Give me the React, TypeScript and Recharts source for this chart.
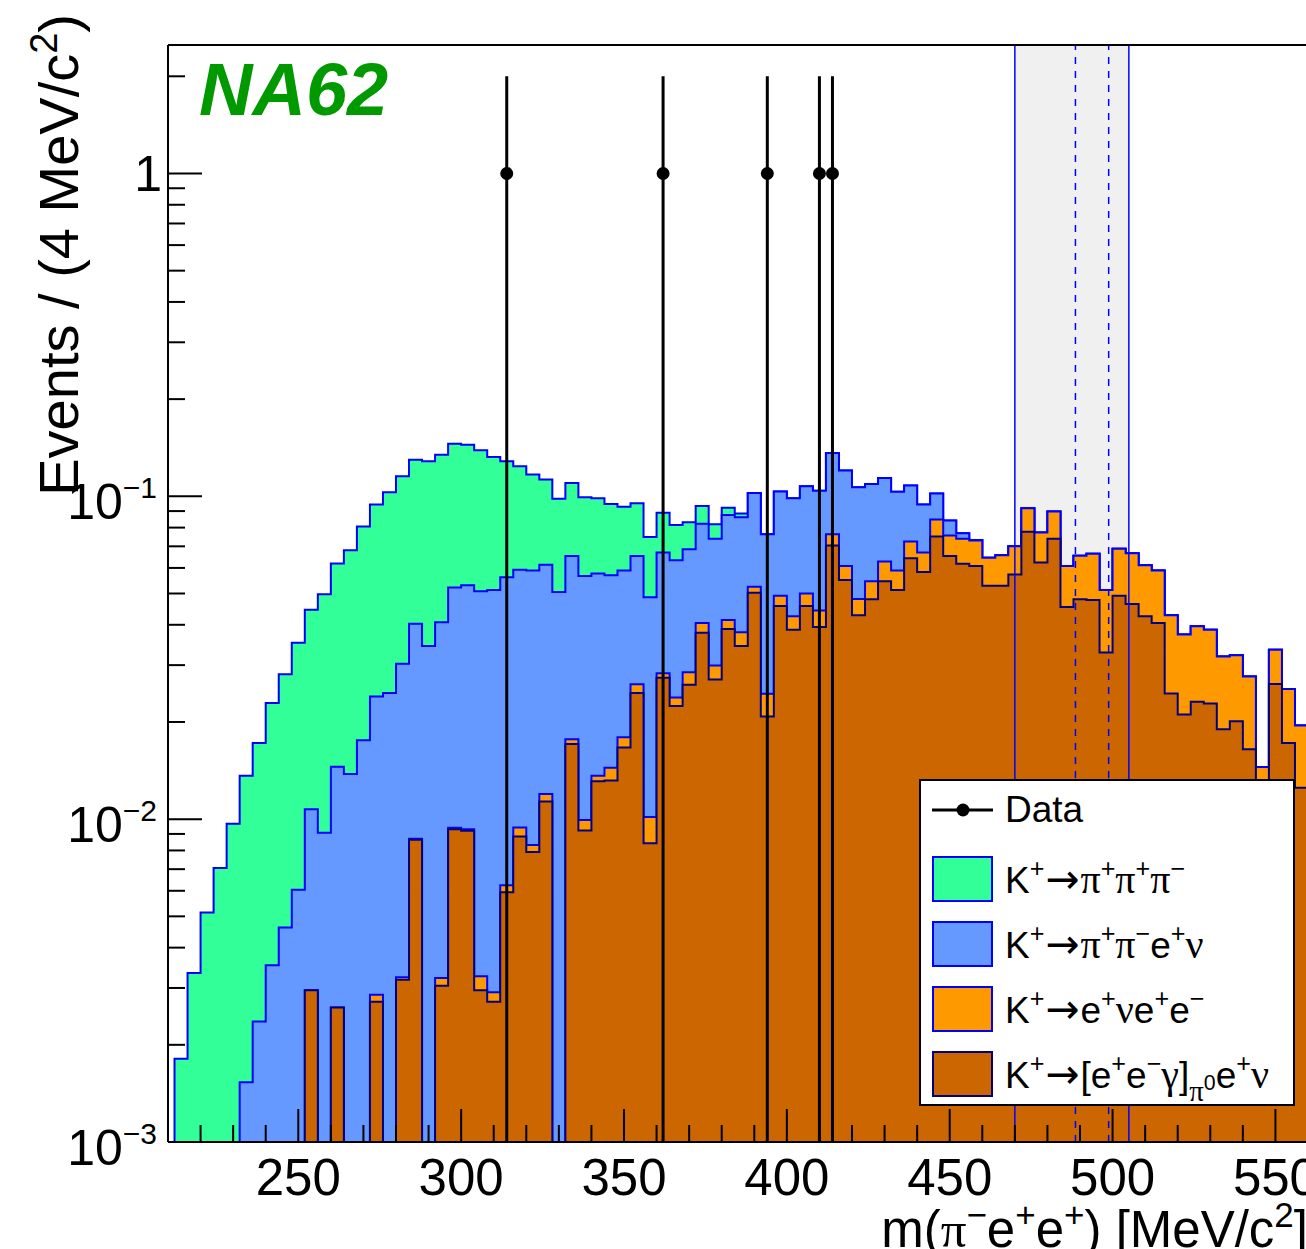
import React from 'react';
import { ComposedChart, Area, XAxis, YAxis, ReferenceArea, ReferenceLine, Scatter, Legend } from 'recharts';

const FONT = '"Liberation Sans", Arial, Helvetica, sans-serif';
const GREEK = '"Liberation Serif", "DejaVu Serif", serif';
const ARROW_FONT = '"DejaVu Sans", sans-serif';

// 4 MeV/c2 bins, lower edges 208 ... 556
const BIN_LOW = Array.from({ length: 88 }, (_, i) => 208 + 4 * i);
const BIN_END = 560;

// K+ -> pi+ pi+ pi-
const K3PI = [
  0, 0.00181, 0.00334, 0.00514, 0.00706, 0.00968, 0.01209, 0.01484, // 208
  0.01937, 0.02348, 0.02916, 0.03376, 0.04063, 0.04738, 0.0543, 0.06316, // 240
  0.0703, 0.0784, 0.0851, 0.0894, 0.0941, 0.0938, 0.0932, 0.0914, // 272
  0.0881, 0.081, 0.0724, 0.0648, 0.058, 0.0514, 0.0477, 0.0446, // 304
  0.0427, 0.041, 0.0376, 0.0339, 0.0299, 0.0261, 0.022, 0.0181, // 336
  0.0145, 0.0111, 0.0081, 0.0047, 0.0022, 0, 0, 0, // 368
  0, 0, 0, 0, 0, 0, 0, 0, // 400
  0, 0, 0, 0, 0, 0, 0, 0, // 432
  0, 0, 0, 0, 0, 0, 0, 0, // 464
  0, 0, 0, 0, 0, 0, 0, 0, // 496
  0, 0, 0, 0, 0, 0, 0, 0, // 528
];

// K+ -> pi+ pi- e+ nu
const KE4 = [
  0, 0, 0, 0, 0, 0, 0.00153, 0.00236,
  0.00353, 0.00462, 0.00604, 0.00779, 0.00907, 0.01191, 0.0138, 0.01754,
  0.02114, 0.0246, 0.02706, 0.0316, 0.0344, 0.03748, 0.0428, 0.0437,
  0.04754, 0.04839, 0.04986, 0.04977, 0.05059, 0.04944, 0.0505, 0.04763,
  0.04666, 0.04408, 0.04256, 0.04095, 0.03911, 0.03854, 0.0387, 0.0396,
  0.0401, 0.0418, 0.044, 0.0461, 0.0483, 0.0499, 0.05185, 0.0543,
  0.0561, 0.0575, 0.0597, 0.06, 0.0595, 0.0586, 0.0546, 0.0511,
  0.0444, 0.0356, 0.0273, 0.0173, 0.0086, 0.003, 0.0002, 0,
  0, 0, 0, 0, 0, 0, 0, 0,
  0, 0, 0, 0, 0, 0, 0, 0,
  0, 0, 0, 0, 0, 0, 0, 0,
];

// K+ -> e+ nu e+ e-
const KENEE = [
  0, 0, 0, 0, 0, 0, 0, 0,
  0, 0, 0, 0, 0, 0, 0, 0,
  0.00014, 0, 0.00006, 0.00006, 0, 0.00017, 0.0001, 0.0001,
  0.00031, 0.00019, 0.0003, 0.00059, 0.0004, 0.00061, 0, 0.00057,
  0.00072, 0.00052, 0.00126, 0.00128, 0.00159, 0.00174, 0.0009, 0.0014,
  0.0024, 0.0027, 0.0028, 0.0026, 0.0035, 0.0022, 0.00365, 0.0035,
  0.0039, 0.0043, 0.0049, 0.0059, 0.0057, 0.0053, 0.0066, 0.0082,
  0.0076, 0.0082, 0.0087, 0.0096, 0.0103, 0.0121, 0.0122, 0.0117,
  0.0129, 0.0127, 0.0143, 0.0149, 0.0159, 0.0154, 0.0175, 0.0187,
  0.0185, 0.0196, 0.0202, 0.0187, 0.0184, 0.0183, 0.0162, 0.0165,
  0.0158, 0.0129, 0.0121, 0.0112, 0.004, 0.0073, 0.0081, 0.007,
];

// K+ -> [e+ e- gamma]_pi0 e+ nu
const PI0D = [
  0, 0, 0, 0, 0, 0, 0, 0,
  0, 0, 0, 0.00295, 0, 0.00261, 0, 0,
  0.00272, 0, 0.00318, 0.00864, 0, 0.00305, 0.0093, 0.0092,
  0.00295, 0.00272, 0.00594, 0.00884, 0.00791, 0.01135, 0, 0.0171,
  0.00922, 0.0131, 0.01318, 0.01667, 0.0246, 0.00842, 0.0274, 0.0224,
  0.0261, 0.0378, 0.0271, 0.0388, 0.0344, 0.0503, 0.0208, 0.0457,
  0.0386, 0.0457, 0.0394, 0.0704, 0.0551, 0.0428, 0.048, 0.0546,
  0.0513, 0.0643, 0.0583, 0.0751, 0.0653, 0.0618, 0.0608, 0.0528,
  0.0528, 0.0573, 0.0776, 0.0624, 0.0739, 0.0454, 0.048, 0.0477,
  0.0328, 0.0492, 0.0464, 0.0425, 0.0405, 0.0245, 0.0211, 0.0231,
  0.0228, 0.019, 0.0201, 0.01645, 0.0105, 0.0262, 0.0172, 0.0125,
];

// observed events
const DATA_MASS = [314, 362, 394, 410, 414];
const DATA_EVENTS = [1, 1, 1, 1, 1];
const DATA_ERR = [1, 1, 1, 1, 1];

// control band and signal window
const CONTROL = [470, 505];
const SIGNAL = [488.6, 498.8];

const X_DOMAIN = [210, 560];
const Y_MIN = 0.001;
const Y_MAX = 2.5;
const X_MAJOR = [250, 300, 350, 400, 450, 500, 550];
const X_TICKS = [220, 230, 240, 250, 260, 270, 280, 290, 300, 310, 320, 330, 340, 350, 360, 370, 380, 390, 400,
  410, 420, 430, 440, 450, 460, 470, 480, 490, 500, 510, 520, 530, 540, 550, 560];
const Y_DECADES = [0.001, 0.01, 0.1, 1];
const Y_MULT = [1, 2, 3, 4, 5, 6, 7, 8, 9];

const FLOOR = 1e-6;

const table = BIN_LOW.map((x, i) => {
  const brown = PI0D[i];
  const orange = brown + KENEE[i];
  const blue = orange + KE4[i];
  const green = blue + K3PI[i];
  return { x, green: green || FLOOR, blue: blue || FLOOR, orange: orange || FLOOR, brown: brown || FLOOR };
});
table.push({ ...table[table.length - 1], x: BIN_END });

const yTicks: number[] = [];
Y_DECADES.forEach((d) => Y_MULT.forEach((m) => { if (d * m <= Y_MAX) yTicks.push(+(d * m).toPrecision(3)); }));

const points = DATA_MASS.map((x, i) => ({ x, y: DATA_EVENTS[i] }));

const XTick = (props: any) => {
  const { x, y, payload } = props;
  const major = X_MAJOR.includes(payload.value);
  return (
    <g>
      <line x1={x} y1={y} x2={x} y2={y - (major ? 33 : 17)} stroke="#000" strokeWidth={2} />
      {major && (
        <text x={x} y={y + 53} textAnchor="middle" fontSize={51} fontFamily={FONT} fill="#000">
          {payload.value}
        </text>
      )}
    </g>
  );
};

const YTick = (props: any) => {
  const { x, y, payload } = props;
  const lg = Math.log10(payload.value);
  const exp = Math.round(lg);
  const major = Math.abs(lg - exp) < 1e-6;
  return (
    <g>
      <line x1={x} y1={y} x2={x + (major ? 34 : 17)} y2={y} stroke="#000" strokeWidth={2} />
      {major && exp === 0 && (
        <text x={x - 6} y={y + 18} textAnchor="end" fontSize={50} fontFamily={FONT} fill="#000">1</text>
      )}
      {major && exp !== 0 && (
        <text x={x - 11} y={y + 23} textAnchor="end" fontSize={50} fontFamily={FONT} fill="#000">
          10<tspan dy={-21} fontSize={30}>{'\u2212' + Math.abs(exp)}</tspan>
        </text>
      )}
    </g>
  );
};

const sup = (s: string) => (
  <span style={{ fontSize: '0.68em', position: 'relative', top: '-0.62em' }}>{s}</span>
);
const gr = (s: string) => <span style={{ fontFamily: GREEK, fontSize: '1.08em' }}>{s}</span>;
const arrow = <span style={{ fontFamily: ARROW_FONT, fontSize: '1.1em', margin: '0 1px' }}>→</span>;

const LEGEND_ITEMS = [
  { fill: '#33ff99', edge: '#0000ff', label: <>K{sup('+')}{arrow}{gr('π')}{sup('+')}{gr('π')}{sup('+')}{gr('π')}{sup('\u2212')}</> },
  { fill: '#6699ff', edge: '#0000ff', label: <>K{sup('+')}{arrow}{gr('π')}{sup('+')}{gr('π')}{sup('\u2212')}e{sup('+')}{gr('ν')}</> },
  { fill: '#ff9900', edge: '#0000ff', label: <>K{sup('+')}{arrow}e{sup('+')}{gr('ν')}e{sup('+')}e{sup('\u2212')}</> },
  {
    fill: '#cc6600', edge: '#000080',
    label: (
      <>
        K{sup('+')}{arrow}[e{sup('+')}e{sup('\u2212')}{gr('γ')}]
        <span style={{ fontSize: '0.72em', position: 'relative', top: '0.5em' }}>
          {gr('π')}<span style={{ fontSize: '0.8em', position: 'relative', top: '-0.55em' }}>0</span>
        </span>
        e{sup('+')}{gr('ν')}
      </>
    ),
  },
];

const LegendBox = () => (
  <div style={{ position: 'relative', width: 376, height: 327, boxSizing: 'border-box', border: '2px solid #000', background: '#fff', fontFamily: FONT, fontSize: 37, color: '#000' }}>
    <div style={{ position: 'absolute', left: 0, top: 29 - 32, height: 64, display: 'flex', alignItems: 'center' }}>
      <svg width={84} height={64}>
        <line x1={11} y1={32} x2={72} y2={32} stroke="#000" strokeWidth={3} />
        <circle cx={42} cy={32} r={6.5} fill="#000" />
      </svg>
      <span style={{ whiteSpace: 'nowrap' }}>Data</span>
    </div>
    {LEGEND_ITEMS.map((it, i) => (
      <div key={i} style={{ position: 'absolute', left: 0, top: 98 + 65 * i - 32, height: 64, display: 'flex', alignItems: 'center' }}>
        <div style={{ width: 84, height: 64, position: 'relative' }}>
          <div style={{ position: 'absolute', left: 11, top: 9, width: 61, height: 46, boxSizing: 'border-box', background: it.fill, border: `2px solid ${it.edge}` }} />
        </div>
        <span style={{ whiteSpace: 'nowrap' }}>{it.label}</span>
      </div>
    ))}
  </div>
);

const App = () => {
  return (
    <div style={{ position: 'fixed', left: 0, top: 0, width: 1306, height: 1249, overflow: 'hidden', background: '#fff' }}>
      <ComposedChart width={1320} height={1249} data={table} margin={{ top: 45, right: 12, bottom: 47, left: 68 }}>
        <ReferenceArea x1={CONTROL[0]} x2={CONTROL[1]} y1={Y_MIN} y2={Y_MAX} fill="#f0f0f0" fillOpacity={1} stroke="none" zIndex={-10} ifOverflow="visible" />
        <Area type="stepAfter" dataKey="green" stroke="#0000ff" strokeWidth={2} fill="#33ff99" fillOpacity={1} baseValue={Y_MIN} isAnimationActive={false} dot={false} activeDot={false} />
        <Area type="stepAfter" dataKey="blue" stroke="#0000ff" strokeWidth={2} fill="#6699ff" fillOpacity={1} baseValue={Y_MIN} isAnimationActive={false} dot={false} activeDot={false} />
        <Area type="stepAfter" dataKey="orange" stroke="#0000ff" strokeWidth={2} fill="#ff9900" fillOpacity={1} baseValue={Y_MIN} isAnimationActive={false} dot={false} activeDot={false} />
        <Area type="stepAfter" dataKey="brown" stroke="#000080" strokeWidth={2} fill="#cc6600" fillOpacity={1} baseValue={Y_MIN} isAnimationActive={false} dot={false} activeDot={false} />
        {CONTROL.map((v) => (
          <ReferenceLine key={'c' + v} x={v} stroke="#0000ff" strokeWidth={1.5} zIndex={450} />
        ))}
        {SIGNAL.map((v) => (
          <ReferenceLine key={'s' + v} x={v} stroke="#0000ff" strokeWidth={1.5} strokeDasharray="7 7" zIndex={450} />
        ))}
        <ReferenceLine y={Y_MAX} stroke="#000" strokeWidth={2} zIndex={450} ifOverflow="visible" />
        <ReferenceLine x={X_DOMAIN[1]} stroke="#000" strokeWidth={2} zIndex={450} ifOverflow="visible" />
        {DATA_MASS.map((m, i) => (
          <ReferenceLine
            key={'e' + m}
            segment={[
              { x: m, y: Math.max(DATA_EVENTS[i] - DATA_ERR[i], Y_MIN) },
              { x: m, y: DATA_EVENTS[i] + DATA_ERR[i] },
            ]}
            stroke="#000"
            strokeWidth={3}
            ifOverflow="visible"
            zIndex={550}
          />
        ))}
        <Scatter
          data={points}
          dataKey="y"
          isAnimationActive={false}
          legendType="none"
          shape={(p: any) => <circle cx={p.cx} cy={p.cy} r={6.5} fill="#000" />}
        />
        <XAxis
          dataKey="x"
          type="number"
          domain={X_DOMAIN}
          allowDataOverflow
          ticks={X_TICKS}
          interval={0}
          height={60}
          tickSize={0}
          tickMargin={0}
          tickLine={false}
          axisLine={{ stroke: '#000', strokeWidth: 2 }}
          tick={<XTick />}
        />
        <YAxis
          scale="log"
          type="number"
          domain={[Y_MIN, Y_MAX]}
          allowDataOverflow
          ticks={yTicks}
          interval={0}
          width={100}
          tickSize={0}
          tickMargin={0}
          tickLine={false}
          axisLine={{ stroke: '#000', strokeWidth: 2 }}
          tick={<YTick />}
        />
        <Legend
          layout="vertical"
          align="center"
          verticalAlign="middle"
          wrapperStyle={{ left: 919, top: 779, width: 376, height: 327 }}
          content={() => <LegendBox />}
        />
      </ComposedChart>
      <svg width={1306} height={1249} style={{ position: 'absolute', left: 0, top: 0, pointerEvents: 'none' }}>
        <text x={199} y={115} fontSize={74} fontWeight="bold" fontStyle="italic" fill="#009900" fontFamily={FONT}>NA62</text>
        <text transform="translate(78,14) rotate(-90)" textAnchor="end" fontSize={56} fontFamily={FONT} fill="#000">
          Events / (4 MeV/c<tspan dy={-21} fontSize={38}>2</tspan><tspan dy={21}>)</tspan>
        </text>
        <text x={1308} y={1247} textAnchor="end" fontSize={51} fontFamily={FONT} fill="#000">
          m(<tspan fontFamily={GREEK}>π</tspan>
          <tspan dy={-20} fontSize={35}>{'\u2212'}</tspan>
          <tspan dy={20}>e</tspan>
          <tspan dy={-20} fontSize={35}>+</tspan>
          <tspan dy={20}>e</tspan>
          <tspan dy={-20} fontSize={35}>+</tspan>
          <tspan dy={20}>) [MeV/c</tspan>
          <tspan dy={-20} fontSize={35}>2</tspan>
          <tspan dy={20}>]</tspan>
        </text>
      </svg>
    </div>
  );
};

export default App;
